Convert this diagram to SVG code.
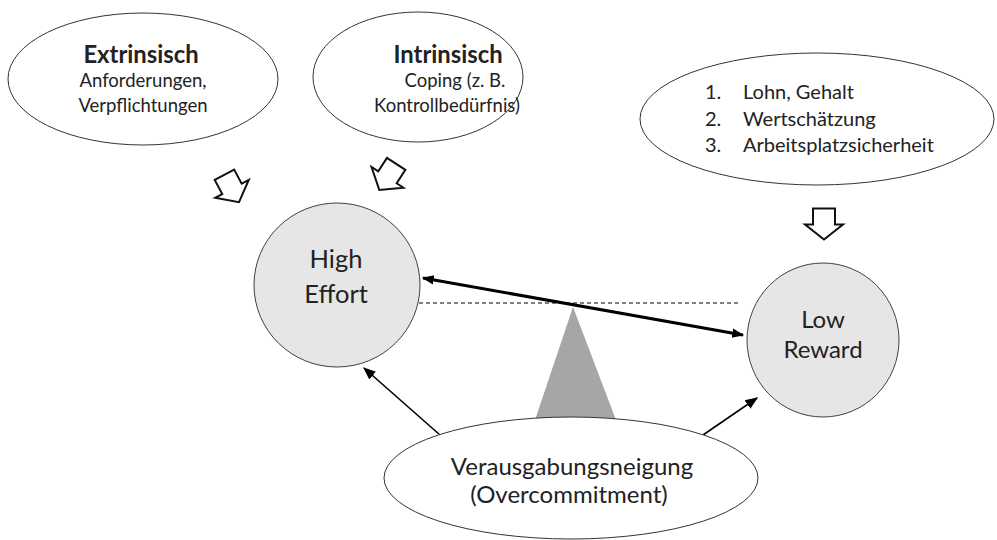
<svg xmlns="http://www.w3.org/2000/svg" width="997" height="540" viewBox="0 0 997 540">
<style>
text{font-family:Lato,"Liberation Sans",sans-serif;fill:#222;text-anchor:middle}
.oval{fill:#fff;stroke:#333;stroke-width:1}
.circ{fill:#e6e6e6;stroke:#404040;stroke-width:1}
.blk{fill:#fff;stroke:#111;stroke-width:2;stroke-linejoin:miter}
.t16{font-size:18.5px}
.lst{font-size:20px;text-anchor:start}
.b{font-size:23.8px;font-weight:bold}
.big{font-size:25.5px}
.mid{font-size:24px}
</style>
<defs>
<polygon id="blockArrow" points="-11,-15 11,-15 11,1 19,1 0,16 -19,1 -11,1"/>
<marker id="ah" viewBox="0 0 10 10" refX="9" refY="5" markerWidth="4" markerHeight="4" orient="auto-start-reverse" markerUnits="strokeWidth">
<path d="M0,1 L10,5 L0,9 z" fill="#000"/>
</marker>
<marker id="ahs" viewBox="0 0 10 10" refX="9" refY="5" markerWidth="8" markerHeight="8" orient="auto" markerUnits="strokeWidth">
<path d="M0,1 L10,5 L0,9 z" fill="#000"/>
</marker>
</defs>

<g id="connectors">
<line x1="419" y1="303" x2="738" y2="303" stroke="#000" stroke-width="1" stroke-dasharray="4,3"/>
<polygon points="573,307 535,420 616,420" fill="#a6a6a6"/>
<line x1="423" y1="278" x2="743" y2="335" stroke="#000" stroke-width="3" marker-start="url(#ah)" marker-end="url(#ah)"/>
<line x1="440" y1="435" x2="364" y2="368" stroke="#000" stroke-width="1.6" marker-end="url(#ahs)"/>
<line x1="703" y1="435" x2="757" y2="398" stroke="#000" stroke-width="1.6" marker-end="url(#ahs)"/>
<use href="#blockArrow" class="blk" transform="translate(231.5,188) rotate(-28)"/>
<use href="#blockArrow" class="blk" transform="translate(388,176.5) rotate(33)"/>
<use href="#blockArrow" class="blk" transform="translate(824,223.5)"/>
</g>

<g id="extrinsisch">
<ellipse class="oval" cx="143" cy="79" rx="135" ry="66"/>
<text x="141" y="63" class="b">Extrinsisch</text>
<text x="143" y="87" class="t16">Anforderungen,</text>
<text x="143" y="112" class="t16">Verpflichtungen</text>
</g>

<g id="intrinsisch">
<ellipse class="oval" cx="418" cy="77" rx="105" ry="65"/>
<text x="448" y="63" class="b">Intrinsisch</text>
<text x="455" y="87" class="t16">Coping (z. B.</text>
<text x="447" y="112" class="t16">Kontrollbedürfnis)</text>
</g>

<g id="rewards">
<ellipse class="oval" cx="817" cy="119" rx="177" ry="66"/>
<text x="705" y="99" class="lst">1.</text>
<text x="743" y="99" class="lst">Lohn, Gehalt</text>
<text x="705" y="126" class="lst">2.</text>
<text x="743" y="126" class="lst">Wertschätzung</text>
<text x="705" y="152" class="lst">3.</text>
<text x="743" y="152" class="lst">Arbeitsplatzsicherheit</text>
</g>

<g id="high-effort">
<ellipse class="circ" cx="337" cy="285" rx="83" ry="82"/>
<text x="336" y="268" class="big">High</text>
<text x="336" y="303" class="big">Effort</text>
</g>

<g id="low-reward">
<ellipse class="circ" cx="823" cy="340" rx="76" ry="77"/>
<text x="823" y="328" class="mid">Low</text>
<text x="823" y="358" class="mid">Reward</text>
</g>

<g id="overcommitment">
<ellipse class="oval" cx="571" cy="478" rx="187" ry="61"/>
<text x="572" y="475" class="mid">Verausgabungsneigung</text>
<text x="569" y="503" class="mid">(Overcommitment)</text>
</g>
</svg>
